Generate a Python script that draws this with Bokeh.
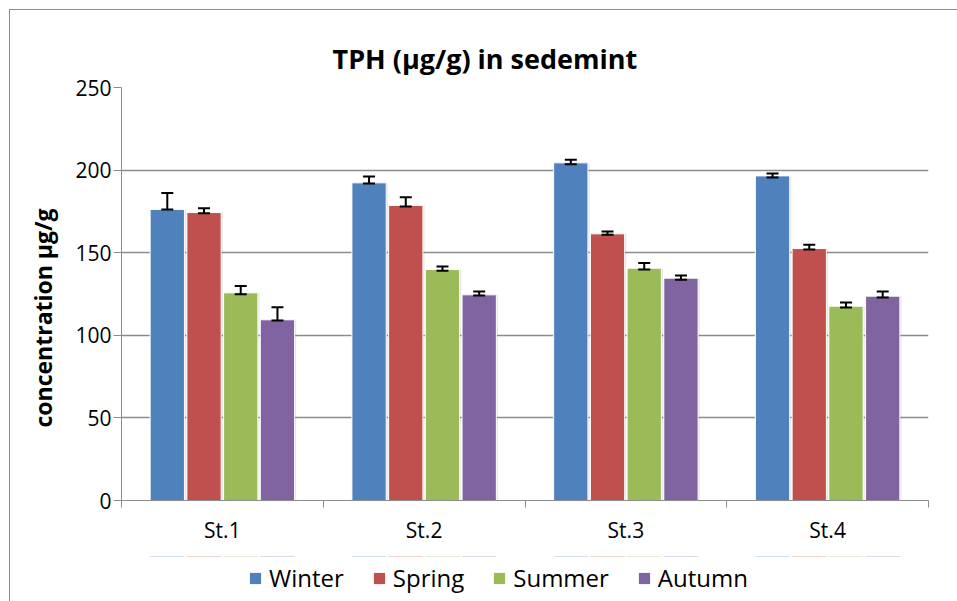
import numpy as np
from bokeh.plotting import figure
from bokeh.layouts import column
from bokeh.models import (ColumnDataSource, Range1d, FixedTicker, Whisker, TeeHead,
                          Legend, LegendItem, Title)
from bokeh.transform import dodge
from bokeh.embed import file_html
from bokeh.resources import INLINE

# ---------------- data ----------------
stations = ["St.1", "St.2", "St.3", "St.4"]
seasons = ["Winter", "Spring", "Summer", "Autumn"]

winter = [176.2, 192.3, 204.4, 196.5]
spring = [174.3, 178.6, 161.4, 152.5]
summer = [125.7, 139.8, 140.6, 117.6]
autumn = [109.4, 124.5, 134.6, 123.7]

winter_err_plus = [10.0, 3.8, 1.8, 1.4]
winter_err_minus = [0.1, 0.4, 0.8, 1.0]
spring_err_plus = [2.6, 5.0, 1.4, 2.3]
spring_err_minus = [0.4, 0.6, 0.6, 0.6]
summer_err_plus = [4.2, 1.8, 3.1, 2.3]
summer_err_minus = [0.8, 0.8, 0.8, 0.8]
autumn_err_plus = [7.6, 2.0, 1.6, 2.8]
autumn_err_minus = [0.4, 0.4, 1.0, 0.8]

y_ticks = [0, 50, 100, 150, 200, 250]
title_text = "TPH (µg/g) in sedemint"
y_label = "concentration µg/g"

colors = ["#4F81BD", "#C0504D", "#9BBB59", "#8064A2"]
FONT = "Open Sans"
GRID = "#8c8c8c"

# ---------------- source ----------------
values = [winter, spring, summer, autumn]
plus = [winter_err_plus, spring_err_plus, summer_err_plus, autumn_err_plus]
minus = [winter_err_minus, spring_err_minus, summer_err_minus, autumn_err_minus]

centers = list(np.arange(len(stations)) + 0.5)
data = dict(x=centers, station=stations)
for s, v, up, dn in zip(seasons, values, plus, minus):
    v = np.array(v)
    data[s] = v
    data[s + "_up"] = v + np.array(up)
    data[s + "_lo"] = v - np.array(dn)
src = ColumnDataSource(data)

p = figure(width=947, height=546,
           x_range=Range1d(0, len(stations)), y_range=Range1d(y_ticks[0], y_ticks[-1]),
           output_backend="svg", toolbar_location=None,
           min_border_left=111, min_border_right=29, min_border_top=77, min_border_bottom=56)
p.outline_line_color = None
p.background_fill_color = "white"
p.border_fill_color = "white"

# title
p.title.text = title_text
p.title.align = "left"
p.title.offset = 211
p.title.standoff = 22
p.title.text_font = FONT
p.title.text_font_size = "27px"
p.title.text_font_style = "bold"
p.title.text_color = "black"

# y axis title
ytitle = Title(text=y_label, align="left", offset=73, standoff=28,
               text_font=FONT, text_font_size="23px", text_font_style="bold",
               text_color="black")
p.add_layout(ytitle, "left")

# grid
p.xgrid.visible = False
p.ygrid.ticker = FixedTicker(ticks=y_ticks)
p.ygrid.grid_line_color = GRID
p.ygrid.grid_line_width = 1.5

# y axis
p.yaxis.ticker = FixedTicker(ticks=y_ticks, minor_ticks=[])
p.yaxis.major_tick_out = 8
p.yaxis.major_tick_in = 0
p.yaxis.major_tick_line_color = GRID
p.yaxis.axis_line_color = GRID
p.yaxis.major_label_standoff = 2
p.yaxis.major_label_text_font = FONT
p.yaxis.major_label_text_font_size = "21px"
p.yaxis.major_label_text_color = "black"

# x axis: labels at group centres, ticks at group boundaries
p.xaxis.ticker = FixedTicker(ticks=centers,
                             minor_ticks=list(np.arange(len(stations) + 1)))
p.xaxis.major_label_overrides = {float(c): s for c, s in zip(centers, stations)}
p.xaxis.major_tick_out = 0
p.xaxis.major_tick_in = 0
p.xaxis.major_tick_line_color = None
p.xaxis.minor_tick_out = 7
p.xaxis.minor_tick_in = 0
p.xaxis.minor_tick_line_color = GRID
p.xaxis.axis_line_color = GRID
p.xaxis.major_label_standoff = 8
p.xaxis.major_label_text_font = FONT
p.xaxis.major_label_text_font_size = "21px"
p.xaxis.major_label_text_color = "black"

# bars
offsets = [-0.273, -0.091, 0.091, 0.273]
bar_w = 0.17
for s, c, off in zip(seasons, colors, offsets):
    # soft shadow
    p.vbar(x=dodge("x", off + 0.008, range=None), top=s, width=bar_w, source=src,
           fill_color="#000000", fill_alpha=0.10, line_color=None)
    p.vbar(x=dodge("x", off, range=None), top=s, width=bar_w, source=src,
           fill_color=c, line_color="white", line_width=1)
    w = Whisker(base=dodge("x", off, range=None), upper=s + "_up", lower=s + "_lo",
                source=src, line_color="black", line_width=2,
                upper_head=TeeHead(size=12, line_width=2, line_color="black"),
                lower_head=TeeHead(size=12, line_width=2, line_color="black"))
    w.level = "overlay"
    p.add_layout(w)

# ---------------- legend strip (separate small figure under the chart) ----------------
# its y range lies below zero, so the series bars drawn here stay out of view and
# only serve as legend swatches
lg = figure(width=947, height=45, x_range=Range1d(0, len(stations)), y_range=Range1d(-2, -1),
            output_backend="svg", toolbar_location=None,
            x_axis_type=None, y_axis_type=None,
            min_border_left=0, min_border_right=0, min_border_top=0, min_border_bottom=0)
lg.outline_line_color = None
lg.xgrid.visible = False
lg.ygrid.visible = False
swatches = [lg.vbar(x=dodge("x", off, range=None), top=s, width=bar_w, source=src,
                    fill_color=c, line_color=None)
            for s, c, off in zip(seasons, colors, offsets)]
legend = Legend(items=[LegendItem(label=s, renderers=[r]) for s, r in zip(seasons, swatches)],
                orientation="horizontal", location=(127, 7),
                border_line_color=None, background_fill_alpha=0,
                glyph_width=14, glyph_height=14, label_standoff=7, spacing=28,
                padding=0, margin=0,
                label_text_font=FONT, label_text_font_size="24px",
                label_text_color="black")
lg.add_layout(legend)

layout = column(p, lg, spacing=0)
# outer chart border (left and top edges are visible in the reference)
layout.styles = {"border-left": "1px solid #8c8c8c", "border-top": "1px solid #8c8c8c",
                 "margin-left": "9px", "margin-top": "9px"}

open("out.html", "w").write(file_html(layout, INLINE))
